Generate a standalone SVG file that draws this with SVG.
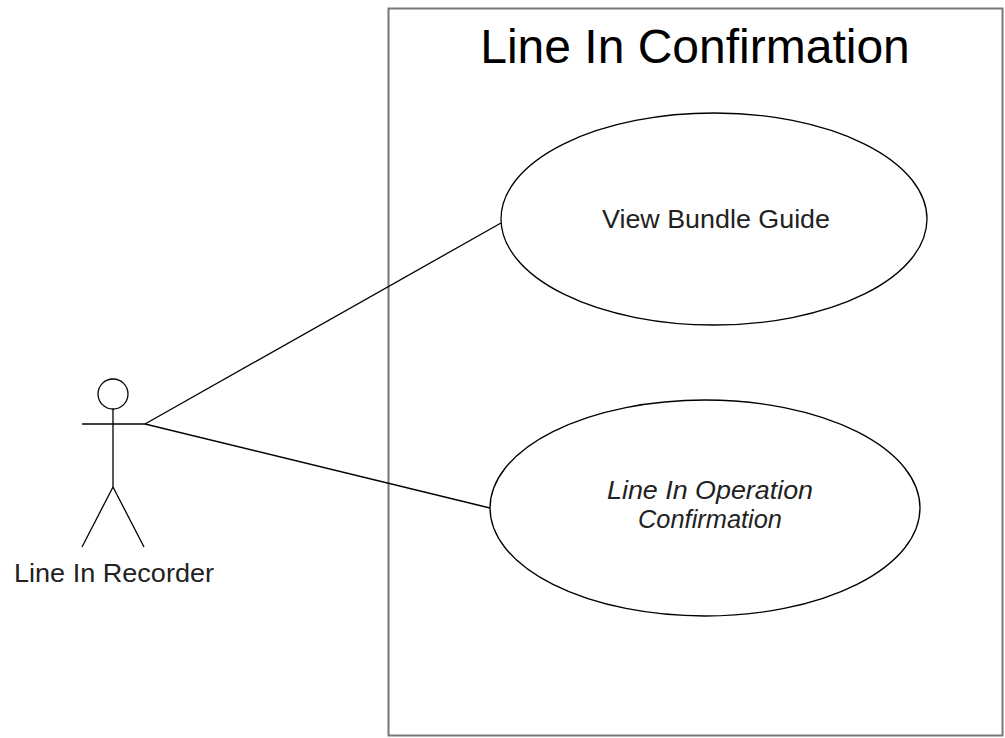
<svg xmlns="http://www.w3.org/2000/svg" width="1005" height="738" viewBox="0 0 1005 738">
<style>
.s{fill:none;stroke:#000;stroke-width:1.3}
.t{font-family:"Liberation Sans",Arial,sans-serif;fill:#000}
.l{font-size:26px;fill:#222}
</style>
<rect width="1005" height="738" fill="#fff"/>
<g id="system">
<rect x="388.5" y="8.5" width="614" height="727" fill="#fff" stroke="#777" stroke-width="2"/>
<text class="t" x="695" y="63" font-size="48" text-anchor="middle">Line In Confirmation</text>
</g>
<g id="connectors">
<line class="s" x1="145" y1="424" x2="501" y2="223"/>
<line class="s" x1="145" y1="424" x2="490" y2="508"/>
</g>
<g id="actor">
<circle class="s" cx="113" cy="394" r="15"/>
<line class="s" x1="82" y1="424" x2="145" y2="424"/>
<line class="s" x1="113" y1="409" x2="113" y2="487"/>
<line class="s" x1="113" y1="487" x2="82" y2="547"/>
<line class="s" x1="113" y1="487" x2="144" y2="547"/>
<text class="t l" x="114" y="582" text-anchor="middle" textLength="200" lengthAdjust="spacingAndGlyphs">Line In Recorder</text>
</g>
<g id="uc1">
<ellipse class="s" cx="714" cy="219" rx="213" ry="106" fill="#fff"/>
<text class="t l" x="716" y="228" text-anchor="middle" textLength="228" lengthAdjust="spacingAndGlyphs">View Bundle Guide</text>
</g>
<g id="uc2">
<ellipse class="s" cx="705" cy="508" rx="215" ry="108"/>
<text class="t l" x="710" y="499" font-style="italic" text-anchor="middle" textLength="206" lengthAdjust="spacingAndGlyphs">Line In Operation</text>
<text class="t l" x="710" y="528" font-style="italic" text-anchor="middle" textLength="144" lengthAdjust="spacingAndGlyphs">Confirmation</text>
</g>
</svg>
